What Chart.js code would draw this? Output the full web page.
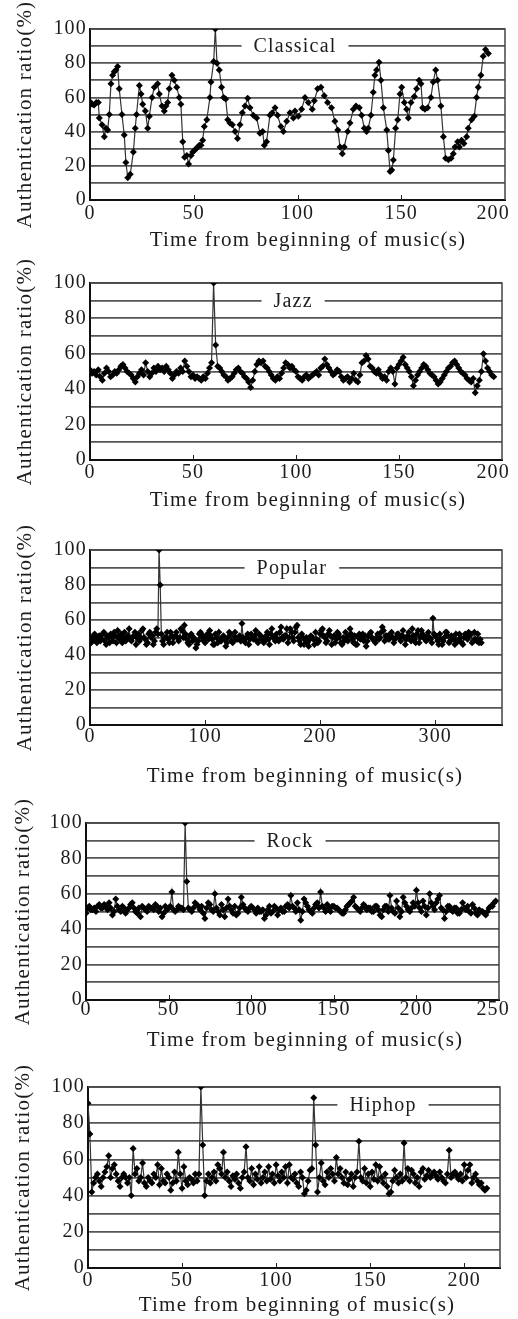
<!DOCTYPE html>
<html>
<head>
<meta charset="utf-8">
<script src="https://cdn.jsdelivr.net/npm/chart.js@4.4.1/dist/chart.umd.min.js"></script>
<style>
	html, body { margin: 0; padding: 0; background: #fff; }
	body { width: 518px; height: 1319px; position: relative; overflow: hidden; }
	canvas { position: absolute; left: 0; }
</style>
</head>
<body>
<canvas id="classical" width="518" height="262" style="top:0px"></canvas>
<canvas id="jazz" width="518" height="280" style="top:250px"></canvas>
<canvas id="popular" width="518" height="285" style="top:515px"></canvas>
<canvas id="rock" width="518" height="268" style="top:790px"></canvas>
<canvas id="hiphop" width="518" height="269" style="top:1050px"></canvas>
<script>
const ratioTicks = [0, 20, 40, 60, 80, 100];

// Classical: time (s) and ratio (%) read point by point
const classicalTime = [
	0, 1, 2, 3, 4, 4.5, 5.8, 6.9, 7.7, 8.5,
	9.3, 10.1, 10.9, 11.7, 12.5, 13.3, 14.1, 15.4, 16.5, 17.3,
	18.2, 19.4, 20.9, 21.8, 22.4, 23.8, 24.6, 25.4, 26.7, 27.8,
	28.6, 29.9, 31, 32.6, 33.4, 34.7, 35.8, 36.6, 37.4, 38.2,
	39.5, 40.6, 41.8, 43, 43.8, 44.7, 45.6, 46.7, 47.5, 48.7,
	49.5, 50.3, 51.1, 51.9, 52.7, 53.5, 54.3, 55.1, 56.3, 57.8,
	58.3, 59.6, 60.4, 61.2, 62.3, 63.4, 64.4, 65.4, 66.4, 67.4,
	68.6, 69.9, 71.1, 72.3, 73.4, 74.7, 76, 77.1, 78.7, 80.3,
	81.9, 83.2, 84, 85.1, 86.7, 87.8, 89.2, 90.4, 92, 93.2,
	94.8, 96.4, 98, 98.8, 100.4, 102, 103.6, 105.2, 107.1, 108.1,
	109.7, 111.3, 112.9, 114.5, 116.4, 118, 119.4, 120.5, 121.6, 122.5,
	124.2, 125.3, 126.9, 128.2, 129.8, 130.9, 132.2, 133.3, 134.1, 135.4,
	136.5, 137.3, 138.1, 139.3, 140.2, 141.4, 143, 143.8, 144.6, 145.4,
	146.2, 147.3, 148.3, 149.4, 150.2, 151.5, 152.6, 153.4, 154.7, 156.3,
	157.4, 158.6, 159.5, 160.3, 161.4, 162.7, 164.3, 165.4, 166.6, 167.5,
	169.1, 170.3, 171.4, 172.7, 174, 175.1, 175.9, 177.2, 178, 179.1,
	180.2, 181.5, 182.3, 183.9, 185.2, 186.3, 187.1, 188.4, 189.5, 190.6, 192,
];
const classicalRatio = [
	57.5, 56, 55.5, 57, 57, 48, 44, 37, 42, 41,
	50, 68, 73, 75, 76, 78, 65, 50, 38, 22,
	13, 15, 28, 42, 50, 67, 62, 56, 52, 42,
	49, 60, 66, 68, 62, 55, 52, 55, 57, 65,
	73, 70, 66, 60, 56, 34, 25, 26, 21, 26,
	28, 29, 30, 31, 32, 32, 35, 43, 47, 60,
	69, 81, 100, 80, 76, 66, 60, 59, 47, 45,
	44, 40, 36, 44, 51, 55, 59.5, 54, 49.5, 48,
	39, 40, 32, 34, 49.5, 51, 54, 49.5, 43, 40,
	46, 51, 48, 52, 49, 53, 60, 57, 53, 58,
	65, 66, 61, 57, 54, 46, 41, 31, 27, 31,
	40, 45, 53, 55, 54, 49.5, 42, 40, 42, 49.5,
	63, 73, 76, 80.5, 70, 54, 41, 29, 16.6, 17.5,
	23.4, 42, 47, 62, 66, 57, 53, 48, 57, 60.5,
	65, 70, 68, 54, 53, 54, 60, 69, 76, 70,
	55, 37, 24.4, 23.6, 24.4, 27, 31, 34, 31, 35,
	33, 37, 42, 47, 49, 60, 66, 73, 84, 88, 85.7,
];
const classicalTicks = [0, 50, 100, 150, 200];

// Jazz: one reading per second
const jazzStep = 1;
const jazzRatio = [
	51, 49, 50, 48, 51, 47, 45, 49, 52, 50,
	47, 48, 50, 49, 51, 53, 54, 52, 50, 49,
	48, 46, 44, 47, 49, 51, 48, 55, 50, 47,
	49, 52, 50, 53, 51, 52, 50, 53, 51, 49,
	46, 48, 50, 49, 52, 50, 56, 53, 50, 47,
	48, 46, 47, 46, 45, 47, 46, 49, 52, 55,
	100, 65, 53, 52, 50, 48, 47, 45, 46, 47,
	49, 51, 52, 50, 49, 47, 46, 44, 41, 45,
	50, 54, 56, 55, 56, 53, 52, 50, 48, 46,
	45, 47, 46, 49, 52, 55, 54, 52, 53, 51,
	50, 47, 46, 45, 47, 48, 46, 47, 48, 49,
	50, 48, 52, 53, 57, 54, 52, 50, 48, 49,
	51, 50, 47, 45, 46, 47, 44, 46, 49, 45,
	44, 48, 55, 56, 59, 57, 53, 52, 50, 49,
	51, 48, 46, 47, 45, 50, 52, 50, 43, 52,
	54, 56, 58, 54, 52, 50, 47, 42, 45, 48,
	50, 52, 54, 53, 51, 49, 48, 47, 45, 43,
	44, 46, 48, 50, 52, 53, 55, 56, 54, 52,
	50, 49, 48, 46, 45, 44, 46, 38, 42, 45,
	50, 60, 56, 52, 50, 48, 47,
];
const jazzTicks = [0, 50, 100, 150, 200];

// Popular: one reading per second
const popularStep = 1;
const popularRatio = [
	50, 47, 48, 51, 52, 49, 47, 50, 51, 48,
	49, 52, 53, 48, 46, 51, 50, 47, 52, 50,
	48, 53, 51, 47, 54, 50, 49, 52, 47, 50,
	53, 48, 50, 51, 55, 49, 48, 50, 51, 53,
	46, 50, 52, 48, 50, 54, 55, 50, 49, 46,
	47, 52, 53, 50, 51, 46, 48, 53, 55, 52,
	100, 80, 52, 48, 46, 50, 50, 53, 49, 47,
	53, 51, 47, 50, 51, 53, 50, 48, 50, 55,
	54, 50, 57, 52, 49, 47, 46, 51, 52, 48,
	50, 49, 44, 46, 48, 52, 53, 50, 51, 48,
	47, 50, 52, 49, 54, 51, 49, 46, 46, 52,
	50, 47, 53, 48, 48, 50, 51, 49, 45, 47,
	50, 53, 52, 48, 47, 51, 53, 49, 49, 50,
	51, 48, 58, 50, 48, 47, 50, 52, 46, 49,
	52, 50, 49, 51, 54, 48, 47, 52, 51, 49,
	50, 47, 48, 51, 53, 49, 46, 52, 55, 50,
	50, 48, 52, 49, 48, 53, 56, 50, 49, 51,
	51, 55, 47, 50, 55, 53, 50, 48, 53, 56,
	57, 50, 48, 46, 52, 50, 46, 49, 50, 47,
	45, 49, 51, 50, 49, 46, 53, 49, 47, 48,
	52, 54, 55, 51, 50, 47, 48, 52, 54, 51,
	46, 50, 51, 47, 49, 53, 52, 50, 47, 46,
	50, 48, 53, 50, 48, 51, 55, 52, 49, 47,
	51, 46, 46, 50, 52, 49, 50, 52, 48, 51,
	45, 48, 51, 52, 53, 50, 49, 48, 47, 50,
	52, 49, 50, 53, 56, 54, 48, 51, 51, 49,
	49, 52, 53, 50, 47, 49, 50, 52, 52, 50,
	48, 51, 54, 50, 46, 49, 51, 53, 50, 48,
	55, 51, 49, 47, 52, 54, 47, 50, 54, 52,
	50, 49, 48, 51, 53, 50, 49, 47, 61, 52,
	51, 50, 48, 46, 52, 49, 46, 48, 50, 53,
	53, 51, 47, 48, 51, 50, 49, 46, 52, 48,
	48, 52, 50, 47, 46, 50, 52, 51, 49, 53,
	51, 52, 47, 48, 53, 49, 48, 52, 47, 49,
	47,
];
const popularTicks = [0, 100, 200, 300];

// Rock: one reading per second
const rockStep = 1;
const rockRatio = [
	49, 52, 53, 51, 51, 52, 50, 53, 54, 52,
	52, 54, 53, 51, 55, 52, 48, 50, 57, 53,
	51, 50, 53, 52, 49, 51, 52, 54, 55, 52,
	50, 49, 52, 47, 53, 52, 51, 50, 53, 52,
	52, 51, 54, 53, 50, 52, 47, 49, 53, 51,
	52, 53, 61, 51, 50, 51, 53, 52, 52, 51,
	100, 67, 52, 51, 50, 52, 55, 54, 53, 51,
	53, 49, 46, 52, 55, 54, 51, 50, 60, 52,
	50, 48, 54, 51, 47, 52, 57, 53, 51, 49,
	53, 48, 49, 52, 58, 54, 52, 51, 50, 52,
	53, 52, 51, 49, 52, 50, 50, 51, 46, 48,
	51, 53, 49, 50, 53, 52, 48, 51, 52, 50,
	50, 53, 54, 52, 59, 53, 52, 50, 55, 51,
	45, 50, 57, 55, 53, 51, 50, 49, 52, 54,
	55, 52, 61, 53, 52, 50, 54, 52, 50, 53,
	53, 52, 52, 51, 50, 49, 49, 51, 53, 54,
	55, 56, 58, 53, 52, 51, 50, 52, 54, 53,
	51, 52, 52, 50, 50, 53, 53, 51, 48, 47,
	51, 53, 53, 50, 59, 52, 50, 49, 56, 52,
	47, 50, 58, 55, 53, 51, 50, 52, 55, 53,
	62, 55, 52, 50, 56, 53, 48, 52, 60, 55,
	53, 51, 55, 57, 59, 52, 51, 46, 50, 53,
	53, 51, 50, 52, 52, 49, 49, 51, 55, 52,
	51, 53, 50, 49, 54, 52, 49, 48, 51, 50,
	50, 49, 48, 50, 52, 53, 53, 55, 56,
];
const rockTicks = [0, 50, 100, 150, 200, 250];

// Hiphop: one reading per second
const hiphopStep = 1;
const hiphopRatio = [
	91, 74, 42, 47, 50, 52, 48, 45, 50, 53,
	56, 62, 50, 55, 57, 52, 48, 45, 50, 52,
	50, 47, 50, 40, 66, 52, 55, 48, 50, 58,
	47, 45, 50, 48, 47, 52, 50, 57, 46, 55,
	48, 47, 52, 50, 43, 47, 53, 48, 64, 52,
	44, 56, 48, 46, 50, 49, 47, 52, 48, 52,
	100, 68, 40, 48, 52, 47, 50, 53, 48, 57,
	55, 52, 64, 50, 53, 48, 45, 51, 49, 52,
	47, 44, 50, 53, 67, 50, 48, 55, 46, 52,
	49, 56, 47, 50, 53, 48, 56, 49, 52, 47,
	57, 51, 48, 53, 50, 56, 47, 57, 50, 49,
	52, 47, 45, 53, 50, 41, 43, 48, 54, 55,
	94, 68, 42, 50, 58, 48, 46, 53, 50, 55,
	52, 48, 61, 52, 55, 50, 47, 53, 46, 49,
	52, 45, 50, 53, 70, 50, 48, 55, 47, 52,
	45, 53, 49, 57, 48, 56, 50, 47, 52, 45,
	41, 42, 48, 54, 50, 47, 52, 48, 69, 50,
	55, 48, 54, 52, 47, 50, 45, 53, 55, 49,
	51, 54, 50, 52, 53, 51, 49, 53, 50, 48,
	47, 52, 65, 50, 52, 53, 51, 49, 52, 48,
	57, 50, 54, 57, 47, 50, 52, 48, 46, 47,
	44, 43, 44,
];
const hiphopTicks = [0, 50, 100, 150, 200];

const ink = "#1c1c1c";
const serif = "'Liberation Serif', 'Times New Roman', serif";
Chart.defaults.font.family = serif;
Chart.defaults.color = ink;

const spacing = {
	id: "spacing",
	beforeUpdate: (chart) => {
		chart.ctx.letterSpacing = "1.2px";
	},
	beforeDraw: (chart) => {
		chart.ctx.letterSpacing = "1.2px";
	},
};

// plot box, inward x ticks, x labels/title and the genre name on the 90 line
const frame = {
	id: "frame",
	beforeDatasetsDraw: (chart, args, opts) => {
		const { ctx, chartArea: a, scales } = chart;
		const x = scales.x;
		const y = scales.y;
		ctx.save();
		ctx.letterSpacing = "1.2px";
		ctx.strokeStyle = "#444";
		ctx.lineWidth = 1.5;
		ctx.beginPath();
		ctx.moveTo(a.left, a.top);
		ctx.lineTo(a.right, a.top);
		ctx.lineTo(a.right, a.bottom);
		ctx.stroke();

		ctx.strokeStyle = "#222";
		ctx.lineWidth = 1;
		x.ticks.forEach((t) => {
			const px = Math.round(x.getPixelForValue(t.value)) + 0.5;
			if (px <= a.left + 3 || px >= a.right - 3) return;
			ctx.beginPath();
			ctx.moveTo(px, a.bottom);
			ctx.lineTo(px, a.bottom - 5);
			ctx.stroke();
		});

		ctx.fillStyle = ink;
		ctx.textAlign = "center";
		ctx.textBaseline = "middle";
		ctx.font = "20px " + serif;
		x.ticks.forEach((t) => {
			const label = String(t.value);
			const w = ctx.measureText(label).width;
			const px = Math.min(x.getPixelForValue(t.value), chart.width - 8 - w / 2);
			ctx.fillText(label, px, a.bottom + opts.tickGap);
		});

		ctx.font = "21px " + serif;
		ctx.fillText("Time from beginning of music(s)", opts.titleX, opts.titleY);

		ctx.font = "20px " + serif;
		const ly = y.getPixelForValue(90);
		const lx = a.left + (a.right - a.left) * opts.labelAt;
		const tw = ctx.measureText(opts.label).width;
		ctx.fillStyle = "#fff";
		ctx.fillRect(lx - tw / 2 - 12, ly - 3, tw + 24, 6);
		ctx.fillStyle = ink;
		ctx.fillText(opts.label, lx, ly + 1);
		ctx.restore();
	},
};

const drawGenre = (id, label, time, ratio, xTicks, look) => {
	new Chart(document.getElementById(id), {
		type: "line",
		data: {
			datasets: [
				{
					data: time.map((t, i) => ({ x: t, y: ratio[i] })),
					borderColor: "#333",
					borderWidth: 1.2,
					pointStyle: "rectRot",
					pointRadius: 3.5,
					pointBackgroundColor: "#000",
					pointBorderColor: "#000",
					pointBorderWidth: 0,
					tension: 0,
				},
			],
		},
		options: {
			responsive: false,
			animation: false,
			devicePixelRatio: 1,
			layout: {
				padding: { left: 0, top: look.padTop, right: look.padRight, bottom: 0 },
			},
			plugins: {
				legend: { display: false },
				tooltip: { enabled: false },
				frame: { label, labelAt: look.labelAt, tickGap: look.tickGap, titleX: look.titleX, titleY: look.titleY },
			},
			scales: {
				x: {
					type: "linear",
					min: 0,
					max: look.xMax,
					afterBuildTicks: (s) => {
						s.ticks = xTicks.map((v) => ({ value: v }));
					},
					afterFit: (s) => {
						s.height = look.xHeight;
						s.paddingLeft = 0;
						s.paddingRight = 0;
					},
					ticks: { display: false },
					grid: { display: false, drawTicks: false },
					border: { color: "#111", width: 2 },
				},
				y: {
					min: 0,
					max: 100,
					afterFit: (s) => {
						s.width = look.yWidth;
						s.paddingTop = 0;
						s.paddingBottom = 0;
					},
					ticks: {
						stepSize: 10,
						autoSkip: false,
						padding: 3,
						color: ink,
						font: { size: 20 },
						callback: (v) => (ratioTicks.includes(v) ? v : ""),
					},
					grid: { color: "#555", lineWidth: 1.8, drawTicks: false },
					border: { color: "#111", width: 2 },
					title: {
						display: true,
						text: "Authentication ratio(%)",
						color: ink,
						font: { size: 21 },
						padding: { top: look.yTitlePad, bottom: 0 },
					},
				},
			},
		},
		plugins: [spacing, frame],
	});
};

const byStep = (ratio, step) => ratio.map((_, i) => i * step);

drawGenre("classical", "Classical", classicalTime, classicalRatio, classicalTicks, {
	padTop: 29, padRight: 13, yWidth: 90, xMax: 200, xHeight: 62, tickGap: 14,
	titleX: 308, titleY: 240, yTitlePad: 12.4, labelAt: 0.494,
});
drawGenre("jazz", "Jazz", byStep(jazzRatio, jazzStep), jazzRatio, jazzTicks, {
	padTop: 33, padRight: 16, yWidth: 90, xMax: 200, xHeight: 70, tickGap: 13,
	titleX: 308, titleY: 250, yTitlePad: 12.4, labelAt: 0.493,
});
drawGenre("popular", "Popular", byStep(popularRatio, popularStep), popularRatio, popularTicks, {
	padTop: 35, padRight: 16, yWidth: 90, xMax: 358, xHeight: 75, tickGap: 12,
	titleX: 305, titleY: 261, yTitlePad: 12.4, labelAt: 0.49,
});
drawGenre("rock", "Rock", byStep(rockRatio, rockStep), rockRatio, rockTicks, {
	padTop: 33, padRight: 19, yWidth: 86, xMax: 250, xHeight: 58, tickGap: 10,
	titleX: 305, titleY: 250, yTitlePad: 10.4, labelAt: 0.494,
});
drawGenre("hiphop", "Hiphop", byStep(hiphopRatio, hiphopStep), hiphopRatio, hiphopTicks, {
	padTop: 37, padRight: 18, yWidth: 88, xMax: 219, xHeight: 51, tickGap: 13,
	titleX: 297, titleY: 255, yTitlePad: 10.4, labelAt: 0.716,
});
</script>
</body>
</html>
